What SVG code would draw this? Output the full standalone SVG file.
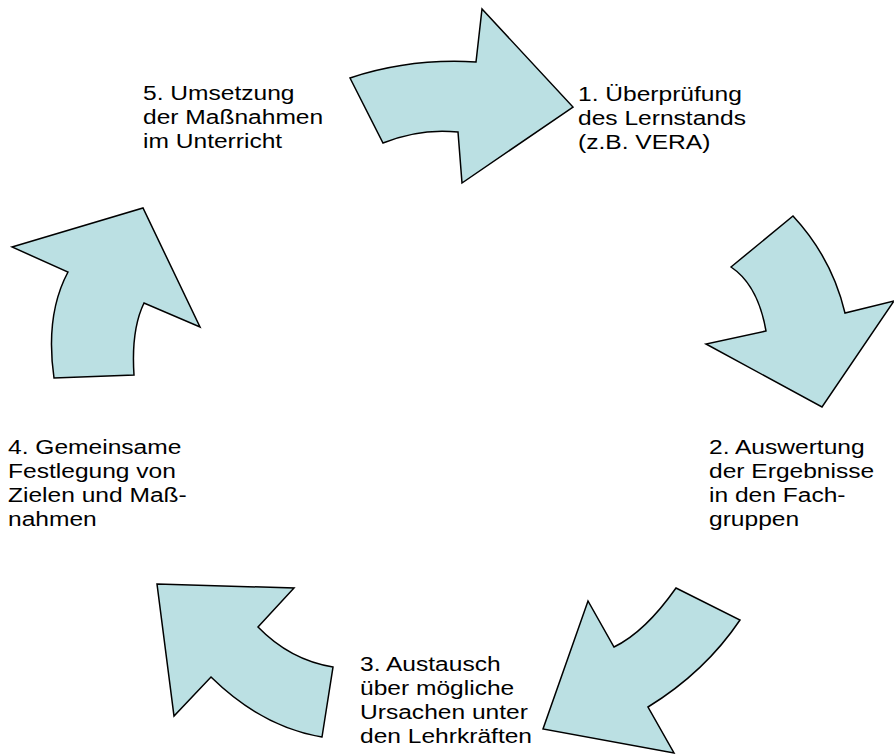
<svg xmlns="http://www.w3.org/2000/svg" width="894" height="755" viewBox="0 0 894 755">
<style>
.arrow{fill:#bbe0e3;stroke:#000;stroke-width:1.5;stroke-linejoin:miter}
.lbl{font-family:"Liberation Sans",Arial,sans-serif;font-size:21px;fill:#000}
</style>
<rect width="894" height="755" fill="#fff"/>
<g id="connectors">
<path id="arrow1" class="arrow" d="M350,78 Q410,58 476,62 L482,9 L573,107 L462,183 L458,132 Q420,128 383,143 Z"/>
<path id="arrow2" class="arrow" d="M731,267 L793,216 Q832,258 845,313 L894,301 L822,407 L706,344 L766,331 Q758,285 731,267 Z"/>
<path id="arrow3" class="arrow" d="M676,588 L740,620 Q705,672 648,707 L674,753 L543,729 L588,601 L614,647 Q645,632 676,588 Z"/>
<path id="arrow4" class="arrow" d="M157,584 L294,588 L258,627 Q290,660 333,667 L322,737 Q262,727 211,677 L174,716 Z"/>
<path id="arrow5" class="arrow" d="M12,247 L143,208 L200,327 L144,303 Q131,330 134,375 L54,378 Q45,315 68,272 Z"/>
</g>
<g id="step1">
<text class="lbl" transform="translate(578,0) scale(1.17,1)"><tspan x="0" y="101">1. Überprüfung</tspan><tspan x="0" y="125">des Lernstands</tspan><tspan x="0" y="149">(z.B. VERA)</tspan></text>
</g>
<g id="step2">
<text class="lbl" transform="translate(709,0) scale(1.17,1)"><tspan x="0" y="454">2. Auswertung</tspan><tspan x="0" y="478">der Ergebnisse</tspan><tspan x="0" y="502">in den Fach-</tspan><tspan x="0" y="526">gruppen</tspan></text>
</g>
<g id="step3">
<text class="lbl" transform="translate(360,0) scale(1.17,1)"><tspan x="0" y="671">3. Austausch</tspan><tspan x="0" y="695">über mögliche</tspan><tspan x="0" y="719">Ursachen unter</tspan><tspan x="0" y="743">den Lehrkräften</tspan></text>
</g>
<g id="step4">
<text class="lbl" transform="translate(8,0) scale(1.17,1)"><tspan x="0" y="454">4. Gemeinsame</tspan><tspan x="0" y="478">Festlegung von</tspan><tspan x="0" y="502">Zielen und Maß-</tspan><tspan x="0" y="526">nahmen</tspan></text>
</g>
<g id="step5">
<text class="lbl" transform="translate(143,0) scale(1.17,1)"><tspan x="0" y="100.5">5. Umsetzung</tspan><tspan x="0" y="124.5">der Maßnahmen</tspan><tspan x="0" y="148.5">im Unterricht</tspan></text>
</g>
</svg>
